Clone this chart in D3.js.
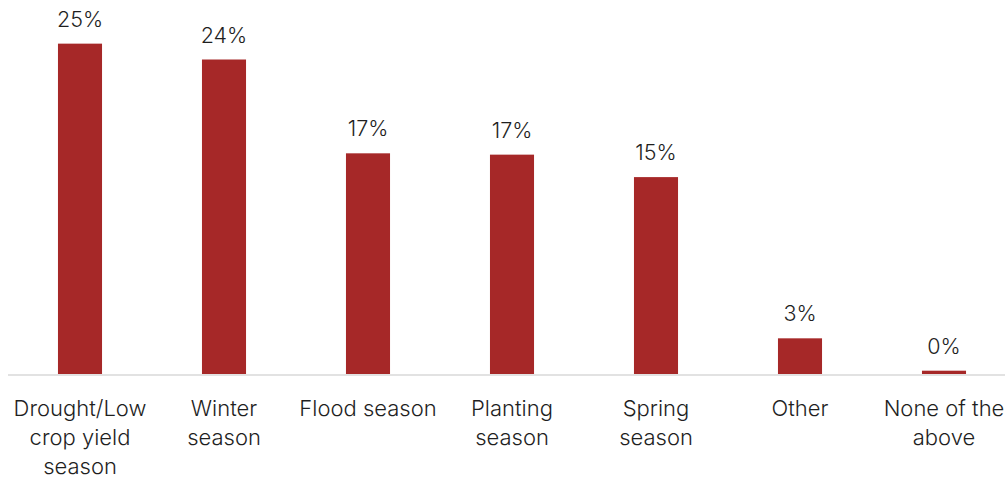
<!DOCTYPE html>
<html>
<head>
<meta charset="utf-8">
<script src="https://cdn.jsdelivr.net/npm/d3@7"></script>
<style>
  html, body { margin: 0; padding: 0; background: #ffffff; }
  svg { display: block; }
</style>
</head>
<body>
<svg id="chart" width="1005" height="479"></svg>
<script>
// Share of respondents by season
const categories = [
  ["Drought/Low", "crop yield", "season"],
  ["Winter", "season"],
  ["Flood season"],
  ["Planting", "season"],
  ["Spring", "season"],
  ["Other"],
  ["None of the", "above"]
];
const values = [0.250, 0.238, 0.167, 0.166, 0.149, 0.027, 0.0025];

const width = 1005, height = 479;
const fontFamily = "Inter, 'Noto Sans', sans-serif";
const barColor = "#a62828";
const textColor = "#1f1f1f";

const svg = d3.select("#chart");

const keys = categories.map((c, i) => i);
const x = d3.scaleBand()
  .domain(keys)
  .range([8, 1016])
  .paddingInner(0.694)
  .paddingOuter(0.347);

const y = d3.scaleLinear()
  .domain([0, 0.28])
  .range([374, 4]);

// bars
svg.append("g")
  .selectAll("rect")
  .data(values)
  .join("rect")
  .attr("x", (d, i) => x(i))
  .attr("width", x.bandwidth())
  .attr("y", d => y(d))
  .attr("height", d => y(0) - y(d))
  .attr("fill", barColor);

// baseline
svg.append("line")
  .attr("x1", 8)
  .attr("x2", width)
  .attr("y1", y(0) + 1)
  .attr("y2", y(0) + 1)
  .attr("stroke", "#d9d9d9")
  .attr("stroke-width", 1.5);

// value labels
const fmt = d3.format(".0%");
svg.append("g")
  .selectAll("text")
  .data(values)
  .join("text")
  .attr("x", (d, i) => x(i) + x.bandwidth() / 2)
  .attr("y", d => y(d) - 17)
  .attr("text-anchor", "middle")
  .attr("font-family", fontFamily)
  .attr("font-size", 21.5)
  .attr("font-weight", 300)
  .attr("fill", textColor)
  .text(d => fmt(d));

// category labels
const cat = svg.append("g")
  .selectAll("text")
  .data(categories)
  .join("text")
  .attr("x", (d, i) => x(i) + x.bandwidth() / 2)
  .attr("y", 416)
  .attr("text-anchor", "middle")
  .attr("font-family", fontFamily)
  .attr("font-size", 22)
  .attr("font-weight", 300)
  .attr("fill", textColor);

cat.selectAll("tspan")
  .data(d => d)
  .join("tspan")
  .attr("x", function () { return d3.select(this.parentNode).attr("x"); })
  .attr("dy", (d, j) => j === 0 ? 0 : 29)
  .text(d => d);
</script>
</body>
</html>
